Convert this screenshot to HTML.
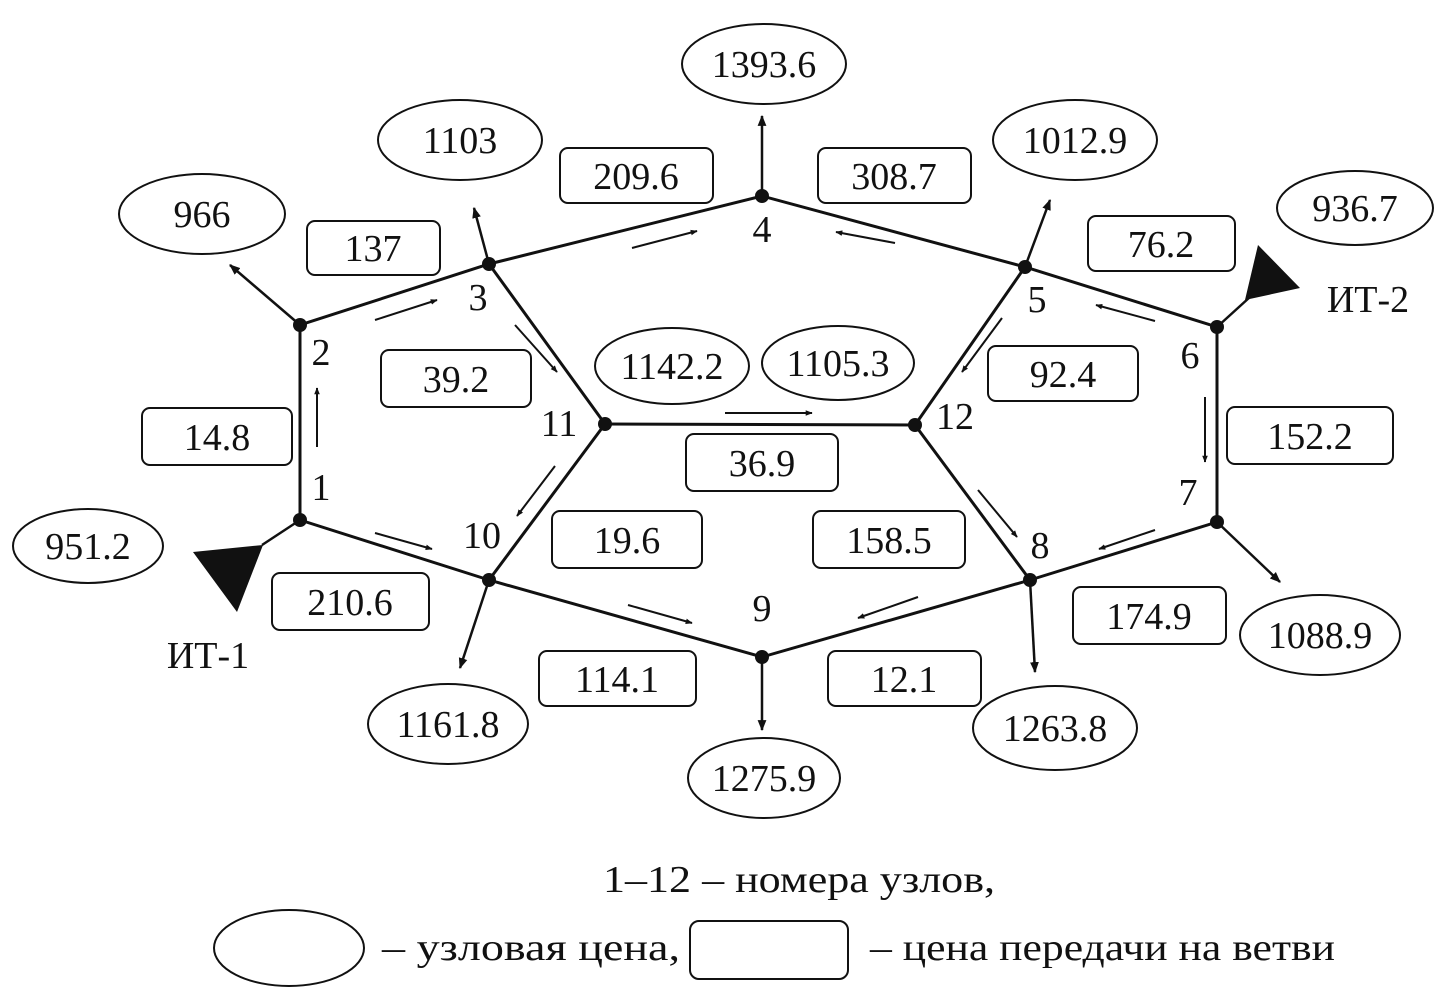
<!DOCTYPE html>
<html><head><meta charset="utf-8"><style>
html,body{margin:0;padding:0;background:#fff;}
svg text{font-family:"Liberation Serif",serif;fill:#111;}
</style></head><body>
<svg width="1440" height="993" viewBox="0 0 1440 993" xmlns="http://www.w3.org/2000/svg">
<defs>
<marker id="a" viewBox="0 0 10 10" refX="9" refY="5" markerWidth="7" markerHeight="7" orient="auto" markerUnits="userSpaceOnUse"><path d="M0,1 L10,5 L0,9 z" fill="#111"/></marker>
<marker id="b" viewBox="0 0 10 10" refX="9" refY="5" markerWidth="11" markerHeight="11" orient="auto" markerUnits="userSpaceOnUse"><path d="M0,1 L10,5 L0,9 z" fill="#111"/></marker>
</defs>
<g stroke="#111" stroke-width="3" fill="none">
<polyline points="300,520 300,325 489,264 762,196 1025,267 1217,327 1217,522 1030,580 762,657 489,580 300,520"/>
<line x1="489" y1="264" x2="605" y2="424"/>
<line x1="605" y1="424" x2="489" y2="580"/>
<line x1="605" y1="424" x2="915" y2="425"/>
<line x1="1025" y1="267" x2="915" y2="425"/>
<line x1="915" y1="425" x2="1030" y2="580"/>
</g>
<g stroke="#111" stroke-width="2.5" marker-end="url(#b)">
<line x1="300" y1="325" x2="230" y2="265"/>
<line x1="489" y1="264" x2="474" y2="208"/>
<line x1="762" y1="196" x2="762" y2="116"/>
<line x1="1025" y1="267" x2="1050" y2="200"/>
<line x1="1217" y1="522" x2="1280" y2="582"/>
<line x1="1030" y1="580" x2="1035" y2="672"/>
<line x1="762" y1="657" x2="762" y2="730"/>
<line x1="489" y1="580" x2="460" y2="668"/>
</g>
<g stroke="#111" stroke-width="2.5">
<line x1="300" y1="520" x2="262" y2="545"/>
<line x1="1217" y1="327" x2="1250" y2="297"/>
</g>
<polygon points="193,552 263,545 237,612" fill="#111"/>
<polygon points="1258,245 1300,288 1245,300" fill="#111"/>
<g stroke="#111" stroke-width="2" marker-end="url(#a)">
<line x1="317" y1="447" x2="317" y2="388"/>
<line x1="375" y1="320" x2="437" y2="300"/>
<line x1="632" y1="248" x2="697" y2="231"/>
<line x1="895" y1="243" x2="836" y2="232"/>
<line x1="1155" y1="321" x2="1096" y2="305"/>
<line x1="1205" y1="397" x2="1205" y2="462"/>
<line x1="1155" y1="530" x2="1099" y2="549"/>
<line x1="918" y1="597" x2="858" y2="618"/>
<line x1="375" y1="533" x2="432" y2="549"/>
<line x1="628" y1="605" x2="692" y2="623"/>
<line x1="515" y1="325" x2="557" y2="372"/>
<line x1="555" y1="466" x2="517" y2="516"/>
<line x1="725" y1="413" x2="812" y2="413"/>
<line x1="1002" y1="318" x2="962" y2="372"/>
<line x1="978" y1="490" x2="1017" y2="537"/>
</g>
<g fill="#111">
<circle cx="300" cy="520" r="7"/><circle cx="300" cy="325" r="7"/><circle cx="489" cy="264" r="7"/>
<circle cx="762" cy="196" r="7"/><circle cx="1025" cy="267" r="7"/><circle cx="1217" cy="327" r="7"/>
<circle cx="1217" cy="522" r="7"/><circle cx="1030" cy="580" r="7"/><circle cx="762" cy="657" r="7"/>
<circle cx="489" cy="580" r="7"/><circle cx="605" cy="424" r="7"/><circle cx="915" cy="425" r="7"/>
</g>
<g fill="#fff" stroke="#111" stroke-width="2">
<ellipse cx="202" cy="214" rx="83" ry="40"/>
<ellipse cx="460" cy="140" rx="82" ry="40"/>
<ellipse cx="764" cy="64" rx="82" ry="40"/>
<ellipse cx="1075" cy="140" rx="82" ry="40"/>
<ellipse cx="1355" cy="208" rx="78" ry="37"/>
<ellipse cx="88" cy="546" rx="75" ry="37"/>
<ellipse cx="672" cy="366" rx="77" ry="38"/>
<ellipse cx="838" cy="363" rx="76" ry="37"/>
<ellipse cx="1320" cy="635" rx="80" ry="40"/>
<ellipse cx="1055" cy="728" rx="82" ry="42"/>
<ellipse cx="764" cy="778" rx="76" ry="40"/>
<ellipse cx="448" cy="724" rx="80" ry="40"/>
<ellipse cx="289" cy="948" rx="75" ry="38"/>
<rect x="307" y="221" width="133" height="54" rx="8"/>
<rect x="560" y="148" width="153" height="55" rx="8"/>
<rect x="818" y="148" width="153" height="55" rx="8"/>
<rect x="1088" y="216" width="147" height="55" rx="8"/>
<rect x="381" y="350" width="150" height="57" rx="8"/>
<rect x="988" y="346" width="150" height="55" rx="8"/>
<rect x="142" y="408" width="150" height="57" rx="8"/>
<rect x="1227" y="407" width="166" height="57" rx="8"/>
<rect x="686" y="434" width="152" height="57" rx="8"/>
<rect x="552" y="511" width="150" height="57" rx="8"/>
<rect x="813" y="511" width="152" height="57" rx="8"/>
<rect x="272" y="573" width="157" height="57" rx="8"/>
<rect x="1073" y="587" width="153" height="57" rx="8"/>
<rect x="539" y="651" width="157" height="55" rx="8"/>
<rect x="828" y="651" width="153" height="55" rx="8"/>
<rect x="690" y="921" width="158" height="58" rx="9"/>
</g>
<g font-size="38" text-anchor="middle">
<text x="202" y="227">966</text>
<text x="460" y="153">1103</text>
<text x="764" y="77">1393.6</text>
<text x="1075" y="153">1012.9</text>
<text x="1355" y="221">936.7</text>
<text x="88" y="559">951.2</text>
<text x="672" y="379">1142.2</text>
<text x="838" y="376">1105.3</text>
<text x="1320" y="648">1088.9</text>
<text x="1055" y="741">1263.8</text>
<text x="764" y="791">1275.9</text>
<text x="448" y="737">1161.8</text>
<text x="373" y="261">137</text>
<text x="636" y="189">209.6</text>
<text x="894" y="189">308.7</text>
<text x="1161" y="257">76.2</text>
<text x="456" y="392">39.2</text>
<text x="1063" y="387">92.4</text>
<text x="217" y="450">14.8</text>
<text x="1310" y="449">152.2</text>
<text x="762" y="476">36.9</text>
<text x="627" y="553">19.6</text>
<text x="889" y="553">158.5</text>
<text x="350" y="615">210.6</text>
<text x="1149" y="629">174.9</text>
<text x="617" y="692">114.1</text>
<text x="904" y="692">12.1</text>
<text x="321" y="500">1</text>
<text x="321" y="365">2</text>
<text x="478" y="310">3</text>
<text x="762" y="242">4</text>
<text x="1037" y="312">5</text>
<text x="1190" y="368">6</text>
<text x="1188" y="505">7</text>
<text x="1040" y="558">8</text>
<text x="762" y="621">9</text>
<text x="482" y="548">10</text>
<text x="559" y="436">11</text>
<text x="955" y="429">12</text>
<text x="208" y="668">ИТ-1</text>
<text x="1368" y="312">ИТ-2</text>
</g>
<g font-size="38">
<text x="603" y="892" textLength="392" lengthAdjust="spacingAndGlyphs">1–12 – номера узлов,</text>
<text x="382" y="960" textLength="298" lengthAdjust="spacingAndGlyphs">– узловая цена,</text>
<text x="870" y="960" textLength="465" lengthAdjust="spacingAndGlyphs">– цена передачи на ветви</text>
</g>
</svg>
</body></html>
